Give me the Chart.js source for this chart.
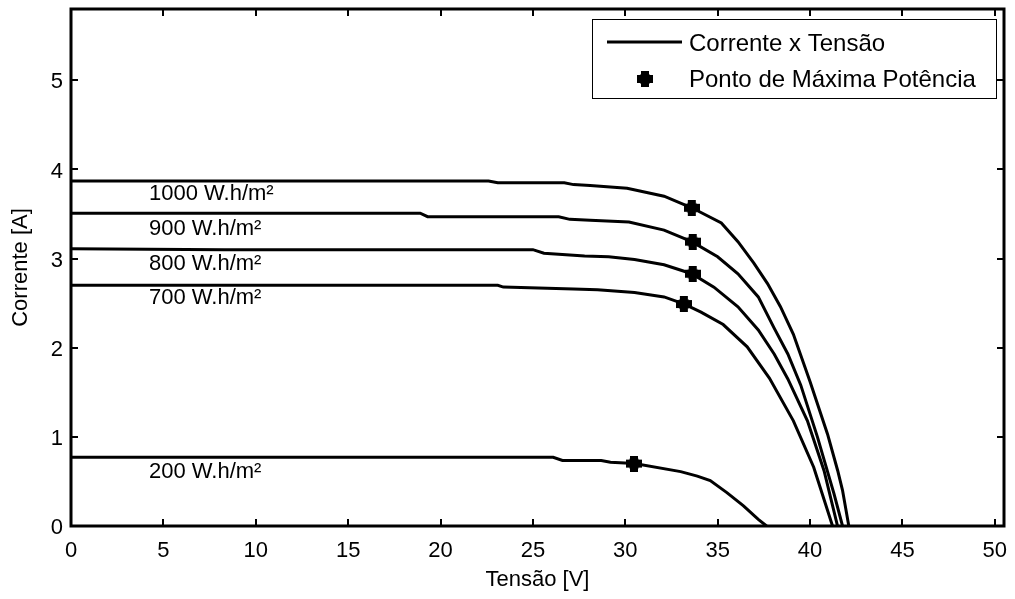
<!DOCTYPE html>
<html><head><meta charset="utf-8">
<script src="https://cdn.jsdelivr.net/npm/chart.js@4.4.0/dist/chart.umd.min.js"></script>
<style>html,body{margin:0;padding:0;background:#fff}#wrap{width:1015px;height:599px}</style>
</head><body><div id="wrap"><canvas id="c" width="1015" height="599"></canvas></div>
<script>
const xTicks = [0,5,10,15,20,25,30,35,40,45,50];
const yTicks = [0,1,2,3,4,5];
const xTitle = 'Tensão [V]';
const yTitle = 'Corrente [A]';
const legendLine = 'Corrente x Tensão';
const legendMarker = 'Ponto de Máxima Potência';

const v1000 = [0, 22.6, 23.1, 26.7, 27.2, 28.1, 30.1, 32.1, 33.6, 35.2, 36.1, 36.96, 37.7, 38.4, 39.1, 40.0, 40.95, 41.5, 41.76, 42.1];
const i1000 = [3.87, 3.87, 3.85, 3.85, 3.83, 3.82, 3.79, 3.70, 3.57, 3.40, 3.19, 2.95, 2.72, 2.46, 2.15, 1.62, 1.03, 0.62, 0.40, 0];
const v900 = [0, 18.9, 19.3, 26.4, 27.0, 28.1, 30.2, 32.1, 33.6, 35.0, 36.1, 37.2, 38.06, 38.8, 39.5, 40.4, 41.3, 41.76];
const i900 = [3.51, 3.51, 3.47, 3.47, 3.44, 3.43, 3.41, 3.32, 3.19, 3.02, 2.83, 2.57, 2.22, 1.93, 1.58, 1.0, 0.36, 0];
const v800 = [0, 8.3, 25.0, 25.6, 27.8, 29.1, 30.5, 32.1, 33.6, 34.8, 36.1, 37.2, 38.06, 38.8, 39.86, 40.76, 41.49];
const i800 = [3.11, 3.10, 3.10, 3.06, 3.03, 3.02, 2.99, 2.93, 2.83, 2.68, 2.46, 2.20, 1.93, 1.65, 1.18, 0.62, 0];
const v700 = [0, 23.1, 23.4, 27.2, 28.5, 30.5, 32.1, 33.2, 34.1, 35.3, 36.6, 37.8, 39.1, 40.2, 41.22];
const i700 = [2.70, 2.70, 2.68, 2.66, 2.65, 2.62, 2.57, 2.49, 2.40, 2.26, 2.01, 1.66, 1.18, 0.66, 0];
const v200 = [0, 26.1, 26.6, 28.7, 29.2, 30.5, 33.0, 33.9, 34.6, 35.5, 36.4, 37.2, 37.65];
const i200 = [0.77, 0.77, 0.735, 0.735, 0.715, 0.70, 0.61, 0.56, 0.51, 0.375, 0.225, 0.075, 0];

const mppV = [33.6, 33.65, 33.65, 33.17, 30.47];
const mppI = [3.57, 3.19, 2.83, 2.49, 0.70];

const irradLabels = ['1000 W.h/m²', '900 W.h/m²', '800 W.h/m²', '700 W.h/m²', '200 W.h/m²'];
const labelV = [4.22, 4.22, 4.22, 4.22, 4.22];
const labelI = [3.72, 3.33, 2.935, 2.56, 0.61];

const curvesV = [v1000, v900, v800, v700, v200];
const curvesI = [i1000, i900, i800, i700, i200];

const FONT = '"Liberation Sans", Arial, sans-serif';
Chart.defaults.font.family = FONT;
Chart.defaults.color = '#000';

function makeMarker() {
  const c = document.createElement('canvas');
  c.width = 16; c.height = 16;
  const g = c.getContext('2d');
  g.fillStyle = '#000';
  g.fillRect(0, 4, 16, 8);
  g.fillRect(4, 0, 8, 16);
  g.beginPath(); g.arc(8, 8, 6.3, 0, Math.PI * 2); g.fill();
  return c;
}
const marker = makeMarker();

const datasets = curvesV.map((vs, k) => ({
  type: 'scatter',
  data: vs.map((v, j) => ({ x: v, y: curvesI[k][j] })),
  showLine: true,
  borderColor: '#000',
  borderWidth: 3,
  pointRadius: 0,
  tension: 0,
  fill: false
}));
datasets.push({
  type: 'scatter',
  data: mppV.map((v, j) => ({ x: v, y: mppI[j] })),
  showLine: false,
  pointStyle: marker,
  pointRadius: 8,
  borderColor: '#000',
  backgroundColor: '#000'
});

const decor = {
  id: 'decor',
  afterDatasetsDraw(chart) {
    const { ctx, chartArea: a, scales: { x, y } } = chart;
    ctx.save();
    ctx.strokeStyle = '#000';
    ctx.lineWidth = 3;
    ctx.strokeRect(a.left, a.top, a.right - a.left, a.bottom - a.top);
    ctx.lineWidth = 2;
    ctx.beginPath();
    xTicks.forEach(v => {
      const px = Math.round(x.getPixelForValue(v));
      ctx.moveTo(px, a.bottom); ctx.lineTo(px, a.bottom - 7);
      ctx.moveTo(px, a.top); ctx.lineTo(px, a.top + 7);
    });
    yTicks.forEach(v => {
      const py = Math.round(y.getPixelForValue(v));
      ctx.moveTo(a.left, py); ctx.lineTo(a.left + 7, py);
      ctx.moveTo(a.right, py); ctx.lineTo(a.right - 7, py);
    });
    ctx.stroke();

    ctx.fillStyle = '#000';
    ctx.font = '22px ' + FONT;
    ctx.textBaseline = 'middle';
    ctx.textAlign = 'left';
    irradLabels.forEach((t, k) => ctx.fillText(t, x.getPixelForValue(labelV[k]), y.getPixelForValue(labelI[k])));

    // legend
    ctx.fillStyle = '#fff';
    ctx.fillRect(593, 20, 404, 78);
    ctx.lineWidth = 1;
    ctx.strokeStyle = '#000';
    ctx.strokeRect(592.5, 19.5, 404, 79);
    ctx.lineWidth = 3;
    ctx.beginPath(); ctx.moveTo(607, 42); ctx.lineTo(682, 42); ctx.stroke();
    ctx.drawImage(marker, 645 - 8, 79 - 8);
    ctx.fillStyle = '#000';
    ctx.font = '24px ' + FONT;
    ctx.fillText(legendLine, 689, 44);
    ctx.fillText(legendMarker, 689, 80);
    ctx.restore();
  }
};

new Chart(document.getElementById('c'), {
  type: 'scatter',
  data: { datasets },
  options: {
    responsive: false,
    animation: false,
    events: [],
    layout: { padding: { top: 9, right: 11, left: 0, bottom: 0 } },
    plugins: { legend: { display: false }, tooltip: { enabled: false } },
    scales: {
      x: {
        type: 'linear', min: 0, max: 50.5,
        grid: { display: false, drawTicks: false },
        border: { display: false },
        afterBuildTicks: s => { s.ticks = xTicks.map(v => ({ value: v })); },
        afterFit: s => { s.height = 73; s.paddingLeft = 0; s.paddingRight = 0; },
        ticks: { font: { size: 22 }, padding: 12, maxRotation: 0, autoSkip: false },
        title: { display: true, text: xTitle, font: { size: 22 }, padding: { top: 0, bottom: 6 } }
      },
      y: {
        type: 'linear', min: 0, max: 5.8,
        grid: { display: false, drawTicks: false },
        border: { display: false },
        afterBuildTicks: s => { s.ticks = yTicks.map(v => ({ value: v })); },
        afterFit: s => { s.width = 71; s.paddingTop = 0; s.paddingBottom = 0; },
        ticks: { font: { size: 22 }, padding: 8, autoSkip: false, labelOffset: 2 },
        title: { display: true, text: yTitle, font: { size: 22 }, padding: { top: 8, bottom: 0 } }
      }
    }
  },
  plugins: [decor]
});
</script></body></html>
